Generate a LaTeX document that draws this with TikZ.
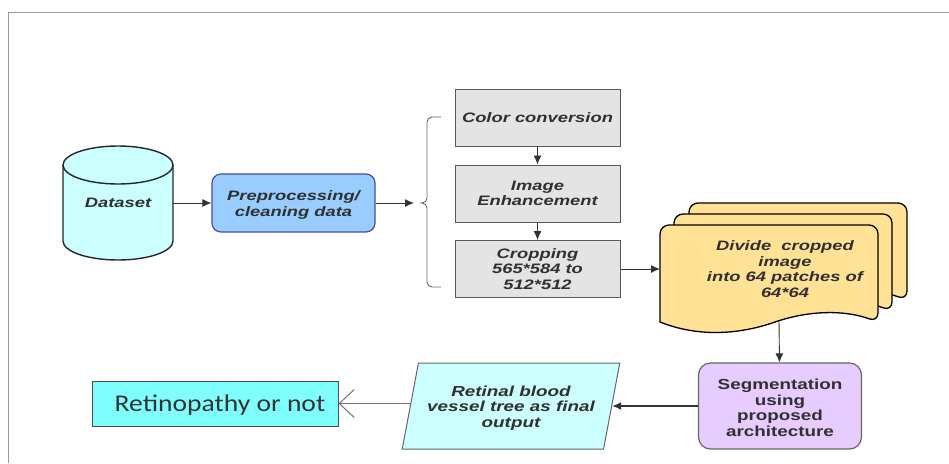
\documentclass[tikz,border=0pt]{standalone}
\usepackage{fontspec}
\usetikzlibrary{arrows.meta, shapes.geometric}
\newfontfamily\labelfont[FakeStretch=1.34]{Liberation Sans}
\newfontfamily\narrowfont[FakeStretch=1.3]{Liberation Sans}
\setmainfont[FakeStretch=1.15]{Carlito}

\definecolor{lightcyan}{HTML}{CCFFFF}
\definecolor{skyfill}{HTML}{99CCFF}
\definecolor{greyfill}{HTML}{E4E4E4}
\definecolor{paperfill}{HTML}{FFE296}
\definecolor{lilacfill}{HTML}{E6CCFF}
\definecolor{aquafill}{HTML}{80FFFF}
\definecolor{inkgrey}{HTML}{303030}

\begin{document}
\begin{tikzpicture}[
        x=1pt,
        y=-1pt,
        every node/.style={align=center, text=inkgrey, font=\labelfont\bfseries\itshape\fontsize{13.7}{15.5}\selectfont},
        stepbox/.style={draw=black!65, line width=1pt, fill=greyfill, minimum width=165pt, minimum height=57pt, inner sep=0pt},
        arrow/.style={draw=black!80, line width=0.9pt, -{Latex[length=9pt,width=8pt]}},
    ]

    \def\dropline{\rule{0pt}{14pt}}

    \useasboundingbox (0,0) rectangle (949,463);

    % frame
    \draw[black!40, line width=0.9pt] (8,463) -- (8,12) -- (949,12);

    % cylinder
    \filldraw[draw=black!85, line width=1.4pt, fill=lightcyan]
    (63,165) -- (63,241) arc[start angle=180, end angle=0, x radius=55, y radius=19] -- (173,165);
    \filldraw[draw=black!85, line width=1.4pt, fill=lightcyan]
    (118,165) ellipse[x radius=55, y radius=19];
    \node[minimum width=110pt, minimum height=40pt, inner sep=0pt] (dataset) at (118,203) {Dataset};

    \node[draw=black!60!blue!70, line width=1.2pt, fill=skyfill, rounded corners=9pt,
        minimum width=163pt, minimum height=58pt, inner sep=0pt] (preprocess) at (293.5,203)
        {\dropline Preprocessing/\\cleaning data};

    \coordinate (bracetip) at (414,203);

    % brace
    \draw[black!60, line width=0.9pt, rounded corners=5pt]
    (441,117) -- (427,117) -- (427,203) -- (417,203) -- (427,203) -- (427,287) -- (441,287);

    \node[stepbox] (colour) at (537.5,117.5) {Color conversion};
    \node[stepbox] (enhance) at (537.5,193.5) {Image\\Enhancement};
    \node[stepbox] (crop) at (537.5,269) {Cropping\\565*584 to\\512*512};

    % stacked pages, back to front
    \foreach \dx/\dy in {29/-22, 14/-11, 0/0} {
        \filldraw[draw=black, line width=1.3pt, fill=paperfill, rounded corners=9pt]
        (660+\dx,322+\dy) -- (660+\dx,225+\dy) -- (878+\dx,225+\dy) -- (878+\dx,322+\dy)
        [sharp corners] .. controls (845+\dx,310+\dy) and (810+\dx,310+\dy) .. (775+\dx,322+\dy)
        .. controls (735+\dx,336+\dy) and (695+\dx,336+\dy) .. (660+\dx,322+\dy) -- cycle;
    }
    \node (divide) at (785,269) {Divide\ \ cropped\\image\\into 64 patches of\\64*64};
    \coordinate (divideleft) at (660,269);
    \coordinate (dividebottom) at (779,321);

    \node[draw=black!60, line width=1.2pt, fill=lilacfill, rounded corners=12pt,
        font=\narrowfont\bfseries\fontsize{14.5}{15.5}\selectfont,
        minimum width=163pt, minimum height=86pt, inner sep=0pt] (segment) at (780,406)
        {\dropline Segmentation\\using\\proposed\\architecture};

    \node[draw=black!60, line width=1pt, fill=lightcyan, shape=trapezium,
        trapezium left angle=73, trapezium right angle=107, trapezium stretches=true,
        font=\narrowfont\bfseries\itshape\fontsize{14.5}{15.5}\selectfont,
        minimum width=218pt, minimum height=86pt, inner sep=0pt] (output) at (511,406)
        {\dropline Retinal blood\\vessel tree as final\\output};

    \node[draw=black!70, line width=1pt, fill=aquafill, text=black!80,
        font=\fontsize{24}{28}\selectfont,
        minimum width=246pt, minimum height=45pt, inner sep=0pt] (result) at (215,403.5)
        {\hspace*{10pt}\rule{0pt}{20pt}Retinopathy or not};

    \draw[arrow] (dataset) -- (preprocess);
    \draw[arrow] (preprocess) -- (bracetip);
    \draw[arrow] (colour) -- (enhance);
    \draw[arrow] (enhance) -- (crop);
    \draw[arrow] (crop) -- (divideleft);
    \draw[arrow] (dividebottom) -- (segment);
    \draw[arrow, line width=1.3pt] (segment) -- (output);
    \draw[black!55, line width=1pt, -{Straight Barb[length=15pt,width=28pt]}] (output.west |- result.east) -- (result);

\end{tikzpicture}
\end{document}
